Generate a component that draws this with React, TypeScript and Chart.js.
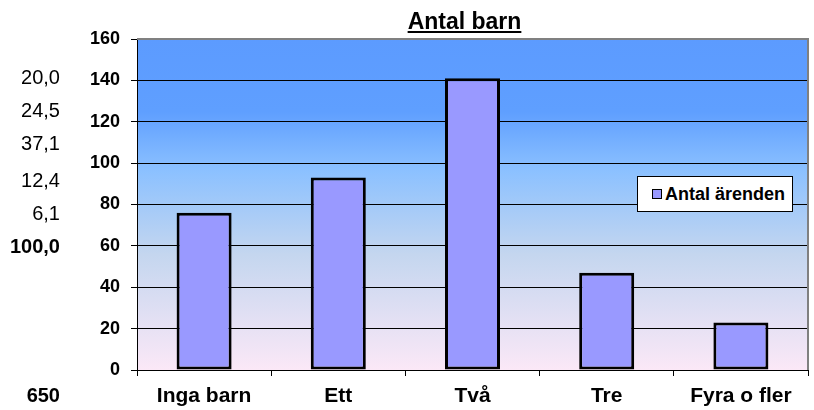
import React, { useEffect, useRef } from "react";
import { Chart, registerables } from "chart.js";

Chart.register(...registerables);

const categories = ["Inga barn", "Ett", "Två", "Tre", "Fyra o fler"];
const seriesName = "Antal ärenden";
const values = [76, 93, 141, 47, 23];
const percentLabels = ["20,0", "24,5", "37,1", "12,4", "6,1"];
const percentTotal = "100,0";
const countTotal = "650";
const chartTitle = "Antal barn";

const FONT = "Arial, 'Liberation Sans', sans-serif";

const bgPlugin = {
  id: "bgPlugin",
  beforeDraw(chart: any) {
    const { ctx, chartArea } = chart;
    if (!chartArea) return;
    const { left, top, right, bottom } = chartArea;
    const g = ctx.createLinearGradient(0, top, 0, bottom);
    g.addColorStop(0, "#5C9BFF");
    g.addColorStop(0.22, "#5F9FFF");
    g.addColorStop(0.4, "#8CC1FF");
    g.addColorStop(0.65, "#C4D6EF");
    g.addColorStop(1, "#FBE8F7");
    ctx.save();
    ctx.fillStyle = g;
    ctx.fillRect(left, top, right - left, bottom - top);
    ctx.restore();
  },
  afterDraw(chart: any) {
    const { ctx, chartArea } = chart;
    const { left, top, right, bottom } = chartArea;
    ctx.save();
    ctx.strokeStyle = "#808080";
    ctx.lineWidth = 2;
    ctx.beginPath();
    ctx.moveTo(left, top);
    ctx.lineTo(right, top);
    ctx.lineTo(right, bottom);
    ctx.stroke();
    ctx.restore();
  },
};

export default function App() {
  const ref = useRef<HTMLCanvasElement>(null);
  useEffect(() => {
    if (!ref.current) return;
    const chart = new Chart(ref.current, {
      type: "bar",
      data: {
        labels: categories,
        datasets: [
          {
            label: seriesName,
            data: values,
            backgroundColor: "#9999FF",
            borderColor: "#000000",
            borderWidth: 3,
            borderSkipped: false,
            barPercentage: 0.41,
            categoryPercentage: 1,
          },
        ],
      },
      options: {
        animation: false,
        responsive: false,
        maintainAspectRatio: false,
        layout: { padding: { top: 39, right: 6, left: 0, bottom: 0 } },
        plugins: {
          legend: { display: false },
          title: { display: false },
          tooltip: { enabled: false },
        },
        scales: {
          x: {
            afterFit: (s: any) => {
              s.height = 40;
            },
            grid: {
              drawOnChartArea: false,
              drawTicks: true,
              tickLength: 6,
              color: "#000000",
              offset: true,
            },
            border: { color: "#000000", width: 1 },
            ticks: {
              color: "#000000",
              padding: 8,
              font: { family: FONT, size: 21, weight: "bold" },
              maxRotation: 0,
            },
          },
          y: {
            min: 0,
            max: 160,
            afterFit: (s: any) => {
              s.width = 137;
            },
            grid: {
              color: "#000000",
              lineWidth: 1,
              tickLength: 6,
            },
            border: { color: "#000000", width: 1 },
            ticks: {
              stepSize: 20,
              color: "#000000",
              padding: 11,
              font: { family: FONT, size: 18, weight: "bold" },
            },
          },
        },
      },
      plugins: [bgPlugin],
    });
    return () => chart.destroy();
  }, []);

  const sideStyle = (top: number, bold = false): React.CSSProperties => ({
    position: "absolute",
    left: 0,
    width: 60,
    top: top - 10,
    textAlign: "right",
    fontFamily: FONT,
    fontSize: 20,
    lineHeight: "20px",
    fontWeight: bold ? "bold" : "normal",
    color: "#000",
    whiteSpace: "nowrap",
  });
  const sideYs = [77, 110, 143, 180, 212.5];

  return (
    <div
      style={{
        position: "fixed",
        left: 0,
        top: 0,
        width: 814,
        height: 410,
        background: "#fff",
        overflow: "hidden",
      }}
    >
      <canvas ref={ref} width={814} height={410} style={{ position: "absolute", left: 0, top: 0 }} />
      {percentLabels.map((t, i) => (
        <div key={i} style={sideStyle(sideYs[i])}>
          {t}
        </div>
      ))}
      <div style={sideStyle(246, true)}>{percentTotal}</div>
      <div style={sideStyle(395, true)}>{countTotal}</div>
      <div
        style={{
          position: "absolute",
          left: 364.5,
          width: 200,
          top: 10,
          textAlign: "center",
          fontFamily: FONT,
          fontSize: 23,
          lineHeight: "23px",
          fontWeight: "bold",
          textDecoration: "underline",
          color: "#000",
        }}
      >
        {chartTitle}
      </div>
      <div
        style={{
          position: "absolute",
          left: 637,
          top: 176,
          width: 154,
          height: 34,
          background: "#fff",
          border: "1px solid #000",
          boxSizing: "content-box",
        }}
      >
        <div
          style={{
            position: "absolute",
            left: 14,
            top: 12,
            width: 8,
            height: 8,
            background: "#9999FF",
            border: "1.5px solid #000",
          }}
        />
        <div
          style={{
            position: "absolute",
            left: 27,
            top: 8,
            fontFamily: FONT,
            fontSize: 18,
            lineHeight: "18px",
            fontWeight: "bold",
            color: "#000",
            whiteSpace: "nowrap",
          }}
        >
          {seriesName}
        </div>
      </div>
    </div>
  );
}
